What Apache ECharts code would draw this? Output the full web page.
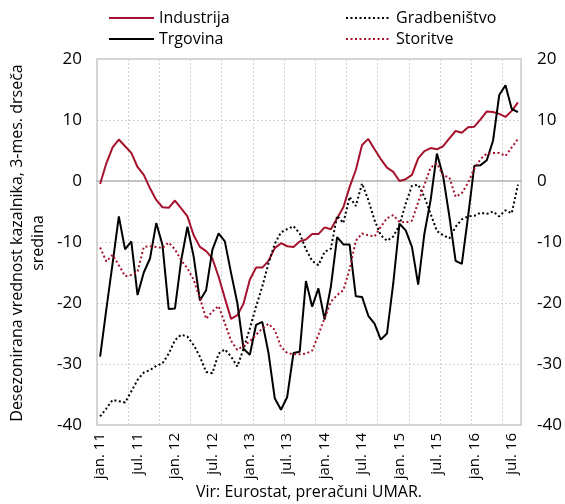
<!DOCTYPE html>
<html>
<head>
<meta charset="utf-8">
<script src="https://cdn.jsdelivr.net/npm/echarts@6/dist/echarts.min.js"></script>
<style>
  html, body { margin: 0; padding: 0; background: #fff; }
  #main { width: 565px; height: 504px; }
</style>
</head>
<body>
<div id="main"></div>
<script>
// months jan 2011 .. avg 2016
var monthNames = ['jan.', 'feb.', 'mar.', 'apr.', 'maj.', 'jun.', 'jul.', 'avg.', 'sep.', 'okt.', 'nov.', 'dec.'];
var years = ['11', '12', '13', '14', '15', '16'];
var monthCount = 68;

var industrija = [-0.5, 2.9, 5.5, 6.8, 5.7, 4.6, 2.3, 1.0, -1.2, -3.1, -4.3, -4.4,
  -3.2, -4.5, -5.8, -8.9, -10.8, -11.5, -12.7, -15.7, -19.2, -22.6, -22.0, -20.1,
  -16.2, -14.2, -14.2, -13.1, -11.0, -10.2, -10.7, -10.8, -9.9, -9.6, -8.7, -8.7,
  -7.6, -7.9, -6.1, -4.3, -1.0, 1.8, 5.9, 6.9, 5.2, 3.6, 2.2, 1.5,
  0.0, 0.3, 1.0, 3.7, 4.9, 5.4, 5.2, 5.7, 7.0, 8.2, 7.9, 8.8,
  8.9, 10.1, 11.4, 11.3, 11.0, 10.5, 11.5, 12.9];

var trgovina = [-28.8, -21.0, -13.5, -5.8, -11.2, -9.9, -18.7, -15.0, -12.7, -6.9, -10.5, -21.0,
  -20.9, -13.0, -7.5, -12.4, -19.6, -17.9, -11.3, -8.6, -9.9, -15.1, -20.0, -27.5,
  -28.5, -23.6, -23.1, -28.2, -35.6, -37.5, -35.4, -28.2, -28.0, -16.4, -20.6, -17.6,
  -22.7, -17.3, -9.2, -10.4, -10.4, -18.9, -19.0, -22.1, -23.4, -26.0, -25.0, -16.8,
  -7.0, -8.1, -10.8, -17.0, -8.6, -3.1, 4.5, 0.8, -5.8, -13.1, -13.6, -5.8,
  2.5, 2.6, 3.4, 6.6, 14.1, 15.7, 11.8, 11.3];

var gradbenistvo = [-38.6, -37.3, -35.9, -36.1, -36.3, -34.5, -32.6, -31.4, -31.0, -30.3, -29.9, -28.3,
  -26.1, -25.2, -25.5, -26.9, -28.8, -31.3, -31.5, -28.3, -27.6, -28.8, -30.4, -27.5,
  -24.2, -20.6, -17.3, -13.5, -10.3, -8.4, -7.9, -7.4, -8.6, -11.2, -13.1, -13.8,
  -11.6, -11.1, -5.7, -6.9, -2.6, -4.1, -0.4, -3.1, -6.4, -8.9, -9.8, -9.1,
  -7.2, -3.7, -0.8, -0.6, -2.6, -5.4, -8.2, -8.9, -9.4, -7.5, -6.3, -5.8,
  -5.7, -5.2, -5.4, -5.0, -5.8, -4.8, -5.3, -0.6];

var storitve = [-10.9, -13.2, -12.1, -13.8, -15.6, -15.4, -14.9, -10.8, -10.7, -10.8, -11.0, -10.1,
  -11.2, -13.0, -14.3, -16.2, -19.2, -22.6, -21.4, -20.5, -23.3, -26.2, -27.7, -27.0,
  -26.3, -25.2, -24.2, -23.4, -24.4, -27.2, -28.2, -28.4, -28.4, -28.3, -27.8, -25.2,
  -22.5, -19.8, -18.7, -17.9, -14.5, -9.8, -8.6, -8.9, -9.1, -7.5, -6.1, -5.6,
  -6.7, -6.8, -6.5, -3.5, -0.6, 2.2, 2.9, 0.9, 0.6, -2.6, -2.0, -0.3,
  2.0, 3.6, 4.5, 4.6, 4.6, 4.1, 5.5, 6.9];

var categories = [];
for (var i = 0; i < monthCount; i++) {
  categories.push(monthNames[i % 12] + ' ' + years[Math.floor(i / 12)]);
}

var red = '#a6122d';
var font = '"Open Sans", sans-serif';

var chartDom = document.getElementById('main');
var myChart = echarts.init(chartDom);
var option;

option = {
  animation: false,
  textStyle: { fontFamily: font, color: '#000' },
  grid: {
    left: 97, right: 43, top: 59, bottom: 79,
    show: true,
    borderColor: '#c8c8c8',
    borderWidth: 1.5
  },
  legend: [
    {
      left: 103, top: 5, orient: 'vertical',
      itemWidth: 45, itemHeight: 14, itemGap: 5,
      itemStyle: { opacity: 0 },
      textStyle: { fontFamily: font, fontSize: 16, color: '#000' },
      data: ['Industrija', 'Trgovina']
    },
    {
      left: 340, top: 5, orient: 'vertical',
      itemWidth: 45, itemHeight: 14, itemGap: 5,
      itemStyle: { opacity: 0 },
      textStyle: { fontFamily: font, fontSize: 16, color: '#000' },
      data: ['Gradbeništvo', 'Storitve']
    }
  ],
  xAxis: [
    {
      type: 'category',
      data: categories,
      boundaryGap: true,
      axisLine: { show: false, onZero: false },
      axisTick: { show: false },
      axisLabel: {
        interval: 5, rotate: 90, margin: 8,
        fontFamily: font, fontSize: 15, color: '#000'
      },
      splitLine: {
        show: true, interval: 4,
        lineStyle: { color: '#d2d2d2', width: 1, type: [2, 2] }
      }
    },
    {
      // zero line
      type: 'category',
      data: categories,
      boundaryGap: true,
      position: 'bottom',
      axisLine: { show: true, onZero: true, lineStyle: { color: '#b3b3b3', width: 1.5 } },
      axisTick: { show: false },
      axisLabel: { show: false },
      splitLine: { show: false }
    }
  ],
  yAxis: [
    {
      type: 'value',
      min: -40, max: 20, interval: 10,
      axisLine: { show: false },
      axisTick: { show: false },
      axisLabel: { margin: 15, fontFamily: font, fontSize: 17, color: '#000' },
      splitLine: { show: true, lineStyle: { color: '#d2d2d2', width: 1, type: [2, 2] } }
    },
    {
      type: 'value',
      position: 'right',
      min: -40, max: 20, interval: 10,
      axisLine: { show: false },
      axisTick: { show: false },
      axisLabel: { margin: 16, fontFamily: font, fontSize: 17, color: '#000' },
      splitLine: { show: false }
    }
  ],
  graphic: [
    {
      type: 'text',
      x: 28, y: 243,
      rotation: Math.PI / 2,
      style: {
        text: 'Desezonirana vrednost kazalnika, 3-mes. drseča\nsredina',
        fontFamily: font, fontSize: 16, lineHeight: 21,
        fill: '#000', align: 'center', verticalAlign: 'middle'
      }
    },
    {
      type: 'text',
      x: 309, y: 492,
      style: {
        text: 'Vir: Eurostat, preračuni UMAR.',
        fontFamily: font, fontSize: 16,
        fill: '#000', align: 'center', verticalAlign: 'middle'
      }
    }
  ],
  series: [
    {
      name: 'Industrija', type: 'line', data: industrija,
      symbol: 'none', lineStyle: { color: red, width: 2 }, itemStyle: { color: red }
    },
    {
      name: 'Gradbeništvo', type: 'line', data: gradbenistvo,
      symbol: 'none', lineStyle: { color: '#000', width: 2, type: [2, 2.5] }, itemStyle: { color: '#000' }
    },
    {
      name: 'Trgovina', type: 'line', data: trgovina,
      symbol: 'none', lineStyle: { color: '#000', width: 2 }, itemStyle: { color: '#000' }
    },
    {
      name: 'Storitve', type: 'line', data: storitve,
      symbol: 'none', lineStyle: { color: red, width: 2, type: [2, 2.5] }, itemStyle: { color: red }
    }
  ]
};

option && myChart.setOption(option);
</script>
</body>
</html>
